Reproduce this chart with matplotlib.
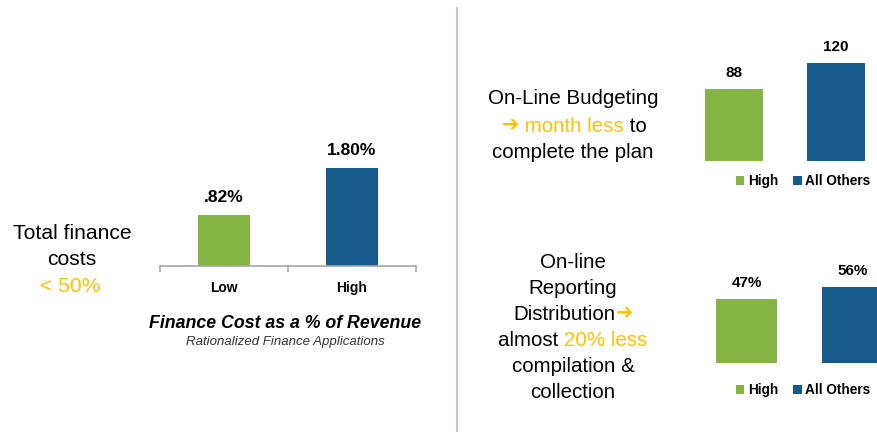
import numpy as np
import matplotlib
matplotlib.use('Agg')
import matplotlib.pyplot as plt

# figure size in pixels
W, H = 877, 432

GREEN = '#84B443'
BLUE = '#155A8A'
ORANGE = '#FFC000'
SANS = ['Liberation Sans', 'DejaVu Sans']

# left chart: finance cost as a % of revenue
cost_cats = ['Low', 'High']
cost_vals = [0.82, 1.80]
cost_labels = ['.82%', '1.80%']

# top right: on-line budgeting (days)
budget_vals = [88, 120]
budget_labels = ['88', '120']

# bottom right: on-line reporting distribution
report_vals = [47, 56]
report_labels = ['47%', '56%']

series_names = ['High', 'All Others']

fig = plt.figure(figsize=(W / 100, H / 100), dpi=100)
fig.patch.set_facecolor('white')


def add_ax(left, top, right, bottom):
    ax = fig.add_axes([left / W, 1 - bottom / H, (right - left) / W, (bottom - top) / H])
    ax.patch.set_alpha(0)
    return ax


renderer = fig.canvas.get_renderer()


def text_width(s, size, weight='normal'):
    # wrap in bars so leading/trailing spaces are counted
    t1 = fig.text(0, 0, '|' + s + '|', fontsize=size, family=SANS, weight=weight)
    t2 = fig.text(0, 0, '||', fontsize=size, family=SANS, weight=weight)
    w = t1.get_window_extent(renderer).width - t2.get_window_extent(renderer).width
    t1.remove()
    t2.remove()
    return w


def rich_line(cx, base_y, parts, size=14.8):
    # parts: (text, colour, weight)
    widths = [text_width(s, size, wt) for s, c, wt in parts]
    x = cx - sum(widths) / 2
    for (s, c, wt), w in zip(parts, widths):
        fig.text(x / W, 1 - base_y / H, s, color=c, fontsize=size, family=SANS,
                 weight=wt, ha='left', va='baseline')
        x += w


# ---- left bar chart ----
base = -0.237
ax1 = add_ax(160, 110, 416, 266)
x1 = np.arange(len(cost_cats))
bars = ax1.bar(x1, np.array(cost_vals) - base, bottom=base, width=0.41,
               color=[GREEN, BLUE])
ax1.set_xlim(-0.5, 1.5)
ax1.set_ylim(base, 2.995)
for sp in ['top', 'right', 'left']:
    ax1.spines[sp].set_visible(False)
ax1.spines['bottom'].set_color('#A6A6A6')
ax1.spines['bottom'].set_linewidth(1.2)
ax1.set_yticks([])
ax1.set_xticks([-0.5, 0.5, 1.5])
ax1.set_xticklabels([])
ax1.tick_params(axis='x', length=4, color='#A6A6A6', width=1.2)
ax1.set_xticks(x1, minor=True)
ax1.set_xticklabels(cost_cats, minor=True, fontsize=10, fontweight='bold',
                    family=SANS)
ax1.tick_params(axis='x', which='minor', length=0, pad=11)
for b, lab in zip(bars, cost_labels):
    ax1.annotate(lab, (b.get_x() + b.get_width() / 2, b.get_y() + b.get_height()),
                 xytext=(0, 7), textcoords='offset points', ha='center', va='bottom',
                 fontsize=12.5, fontweight='bold', family=SANS)

fig.text(285 / W, 1 - 323 / H, 'Finance Cost as a % of Revenue', ha='center',
         va='center', fontsize=12.8, fontweight='bold', style='italic', family=SANS)
fig.text(285 / W, 1 - 342 / H, 'Rationalized Finance Applications', ha='center',
         va='center', fontsize=9.5, style='italic', color='#333333', family=SANS)

# left callout
rich_line(72, 239, [('Total finance', 'black', 'normal')], 15.2)
rich_line(72, 265, [('costs', 'black', 'normal')], 15.2)
rich_line(70, 292, [('< 50%', ORANGE, 'normal')], 15.2)

# divider
fig.add_artist(plt.Line2D([457 / W, 457 / W], [1 - 8 / H, 0], color='#C8C8C8', lw=1.5))


def small_bars(ax, vals, labels, width, ymax):
    xs = np.arange(len(vals))
    bs = ax.bar(xs, vals, width=width, color=[GREEN, BLUE])
    ax.set_xlim(-0.5, 1.5)
    ax.set_ylim(0, ymax)
    ax.axis('off')
    for b, lab in zip(bs, labels):
        ax.annotate(lab, (b.get_x() + b.get_width() / 2, b.get_height()),
                    xytext=(0, 6.5), textcoords='offset points', ha='center',
                    va='bottom', fontsize=11, fontweight='bold', family=SANS)
    return bs


def legend_at(ax, handles, cx, cy):
    ax.legend(handles, series_names, loc='center', ncol=2, frameon=False,
              bbox_to_anchor=(cx / W, 1 - cy / H), bbox_transform=fig.transFigure,
              handlelength=0.65, handleheight=0.65, handletextpad=0.25,
              columnspacing=1.1, borderaxespad=0,
              prop={'family': SANS, 'weight': 'bold', 'size': 9.8})


# ---- top right: budgeting ----
ax2 = add_ax(683, 40, 887, 161)
bs2 = small_bars(ax2, budget_vals, budget_labels, 0.57, 121 / 0.817)
legend_at(ax2, bs2, 803, 181)

rich_line(573, 104, [('On-Line Budgeting', 'black', 'normal')])
rich_line(574, 131.5, [('\u2794', ORANGE, 'bold'), (' month less', ORANGE, 'normal'),
                       (' to', 'black', 'normal')])
rich_line(573, 158, [('complete the plan', 'black', 'normal')])

# ---- bottom right: reporting ----
ax3 = add_ax(693.75, 250, 905, 363)
bs3 = small_bars(ax3, report_vals, report_labels, 0.58, 113 / 1.362)
legend_at(ax3, bs3, 803, 390)

rich_line(573, 268, [('On-line', 'black', 'normal')])
rich_line(573, 294, [('Reporting', 'black', 'normal')])
rich_line(573, 320, [('Distribution', 'black', 'normal'), ('\u2794', ORANGE, 'bold')])
rich_line(573, 346.5, [('almost ', 'black', 'normal'), ('20% less', ORANGE, 'normal')])
rich_line(573, 372, [('compilation &', 'black', 'normal')])
rich_line(573, 398.5, [('collection', 'black', 'normal')])

fig.savefig('out.png', dpi=100)
